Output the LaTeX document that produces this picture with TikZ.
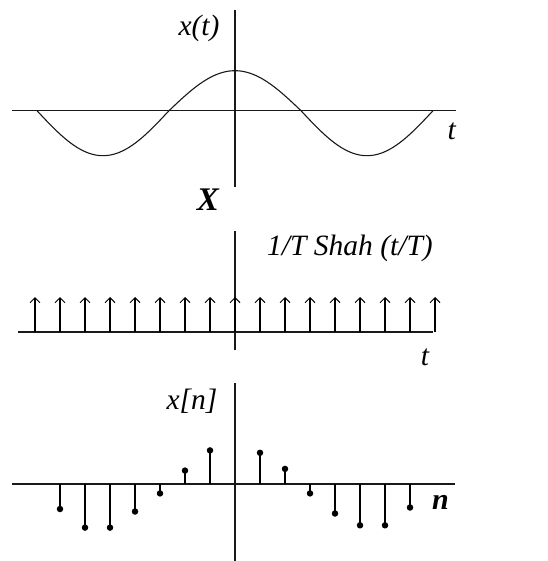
\documentclass[tikz,border=0pt]{standalone}
\usepackage{fontspec}
\setmainfont{Liberation Serif}
\usetikzlibrary{arrows.meta}
\begin{document}
\begin{tikzpicture}[x=1pt,y=-1pt,
  axis/.style={line width=1.4pt, black!90},
  curve/.style={line width=1.1pt, black!90},
  lbl/.style={font=\fontsize{29.5}{33}\selectfont\itshape, inner sep=0pt},
  blbl/.style={font=\fontsize{33}{36}\selectfont\bfseries\itshape, inner sep=0pt},
  nlbl/.style={font=\fontsize{30}{34}\selectfont\bfseries\itshape, inner sep=0pt},
  impulse/.style={line width=1.1pt, -{Straight Barb[length=5pt,width=10pt,line width=1pt]}},
  stemline/.style={line width=1.1pt},
  sampledot/.style={circle, fill, inner sep=0pt, minimum size=6.5pt}]
\useasboundingbox (0,0) rectangle (547,561);
% ---- top plot: x(t)
\coordinate (h1l) at (12,110.7);
\coordinate (h1r) at (455.7,110.7);
\coordinate (v1t) at (235,10);
\coordinate (v1b) at (235,187);
\draw[axis] (h1l) -- (h1r);
\draw[axis] (v1t) -- (v1b);
\draw[curve] plot[domain=-198:-66, samples=60] ({235+\x},{110.7-45*cos(1.363636*\x)});
\draw[curve] plot[domain=-66:66, samples=60] ({235+\x},{110.7-40*cos(1.363636*\x)});
\draw[curve] plot[domain=66:198, samples=60] ({235+\x},{110.7-45*cos(1.363636*\x)});
\node[lbl] (xt) at (199,28) {x(t)};
\node[lbl] (t1) at (451.7,131) {t};
% ---- multiplication sign
\node[blbl] (times) at (208,200) {X};
% ---- middle plot: Shah
\coordinate (h2l) at (18,332);
\coordinate (h2r) at (433.3,332);
\coordinate (v2t) at (235,231);
\coordinate (v2b) at (235,350);
\draw[axis] (h2l) -- (h2r);
\draw[axis] (v2t) -- (v2b);
\foreach \k in {-8,...,8} {
  \coordinate (s\k) at ({235+25*\k},332);
  \coordinate (a\k) at ({235+25*\k},297);
  \draw[impulse] (s\k) -- (a\k);
}
\node[lbl] (shah) at (350,248) {1/T Shah (t/T)};
\node[lbl] (t2) at (425,357) {t};
% ---- bottom plot: x[n]
\coordinate (h3l) at (12,484);
\coordinate (h3r) at (455,484);
\coordinate (v3t) at (235,383);
\coordinate (v3b) at (235,561);
\draw[axis] (h3l) -- (h3r);
\draw[axis] (v3t) -- (v3b);
\foreach \k/\v in {-7/-25,-6/-43.6,-5/-43.6,-4/-27.5,-3/-9.4,-2/13.4,-1/33.6,1/31.2,2/15.1,3/-9.4,4/-29.5,5/-41.3,6/-41.3,7/-23.5} {
  \coordinate (b\k) at ({235+25*\k},484);
  \node[sampledot] (d\k) at ({235+25*\k},{484-\v}) {};
  \draw[stemline] (b\k) -- (d\k.center);
}
\node[lbl] (xn) at (192,401) {x[n]};
\node[nlbl] (n) at (440.5,502.6) {n};
\end{tikzpicture}
\end{document}
